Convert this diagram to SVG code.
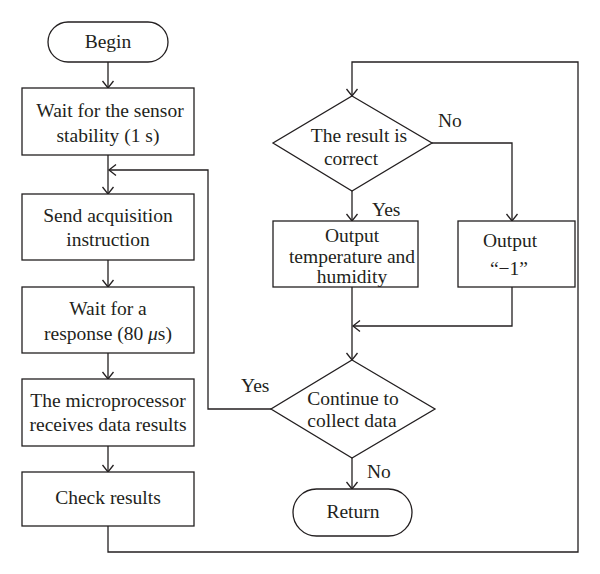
<svg xmlns="http://www.w3.org/2000/svg" width="600" height="574" viewBox="0 0 600 574">
<defs>
<style>
.s{fill:#fff;stroke:#231f20;stroke-width:1.3}
.c{fill:none;stroke:#231f20;stroke-width:1.3}
text{font-family:"Liberation Serif","Times New Roman",serif;font-size:19.5px;fill:#231f20}
.m{text-anchor:middle}
</style>
<marker id="a" markerUnits="userSpaceOnUse" markerWidth="12" markerHeight="14" viewBox="-8 -7 9 14" refX="0" refY="0" orient="auto">
<path d="M-7,-5.5 L0,0 L-7,5.5" fill="none" stroke="#231f20" stroke-width="1.3"/>
</marker>
</defs>
<rect width="600" height="574" fill="#fff"/>
<g id="connectors">
<path class="c" d="M108,62 V88" marker-end="url(#a)"/>
<path class="c" d="M108,155 V194" marker-end="url(#a)"/>
<path class="c" d="M271,409 H208 V170 H109" marker-end="url(#a)"/>
<path class="c" d="M108,260 V287" marker-end="url(#a)"/>
<path class="c" d="M108,353 V379" marker-end="url(#a)"/>
<path class="c" d="M108,446 V472" marker-end="url(#a)"/>
<path class="c" d="M108,526 V552 H578 V62 H352 V96" marker-end="url(#a)"/>
<path class="c" d="M352,191 V221" marker-end="url(#a)"/>
<path class="c" d="M432,143 H512 V221" marker-end="url(#a)"/>
<path class="c" d="M352,287 V360" marker-end="url(#a)"/>
<path class="c" d="M512,287 V326 H353" marker-end="url(#a)"/>
<path class="c" d="M352,458 V489" marker-end="url(#a)"/>
<text x="438" y="127">No</text>
<text x="372" y="216">Yes</text>
<text x="241" y="392">Yes</text>
<text x="367" y="478">No</text>
</g>
<g id="begin">
<rect class="s" x="48" y="22" width="120" height="40" rx="20"/>
<text class="m" x="108" y="48">Begin</text>
</g>
<g id="wait-stability">
<rect class="s" x="22" y="88" width="172" height="67"/>
<text class="m" x="110" y="117">Wait for the sensor</text>
<text class="m" x="108" y="142">stability (1 s)</text>
</g>
<g id="send">
<rect class="s" x="22" y="194" width="172" height="66"/>
<text class="m" x="108" y="222">Send acquisition</text>
<text class="m" x="108" y="246">instruction</text>
</g>
<g id="wait-response">
<rect class="s" x="22" y="287" width="172" height="66"/>
<text class="m" x="108" y="315">Wait for a</text>
<text class="m" x="108" y="340">response (80 <tspan font-style="italic">μ</tspan>s)</text>
</g>
<g id="receive">
<rect class="s" x="22" y="379" width="172" height="67"/>
<text class="m" x="108" y="407">The microprocessor</text>
<text class="m" x="108" y="431">receives data results</text>
</g>
<g id="check">
<rect class="s" x="22" y="472" width="172" height="54"/>
<text class="m" x="108" y="504">Check results</text>
</g>
<g id="correct">
<polygon class="s" points="352,96 432,143 352,191 273,143"/>
<text class="m" x="359" y="142">The result is</text>
<text class="m" x="351" y="165">correct</text>
</g>
<g id="output-th">
<rect class="s" x="273" y="221" width="145" height="66"/>
<text class="m" x="352" y="242">Output</text>
<text class="m" x="352" y="263">temperature and</text>
<text class="m" x="352" y="283">humidity</text>
</g>
<g id="output-neg">
<rect class="s" x="458" y="221" width="117" height="66"/>
<text class="m" x="510" y="247">Output</text>
<text class="m" x="509" y="275">“−1”</text>
</g>
<g id="continue">
<polygon class="s" points="352,360 435,409 352,458 271,409"/>
<text class="m" x="353" y="405">Continue to</text>
<text class="m" x="352" y="427">collect data</text>
</g>
<g id="return">
<rect class="s" x="293" y="489" width="119" height="47" rx="23.5"/>
<text class="m" x="353" y="518">Return</text>
</g>
</svg>
